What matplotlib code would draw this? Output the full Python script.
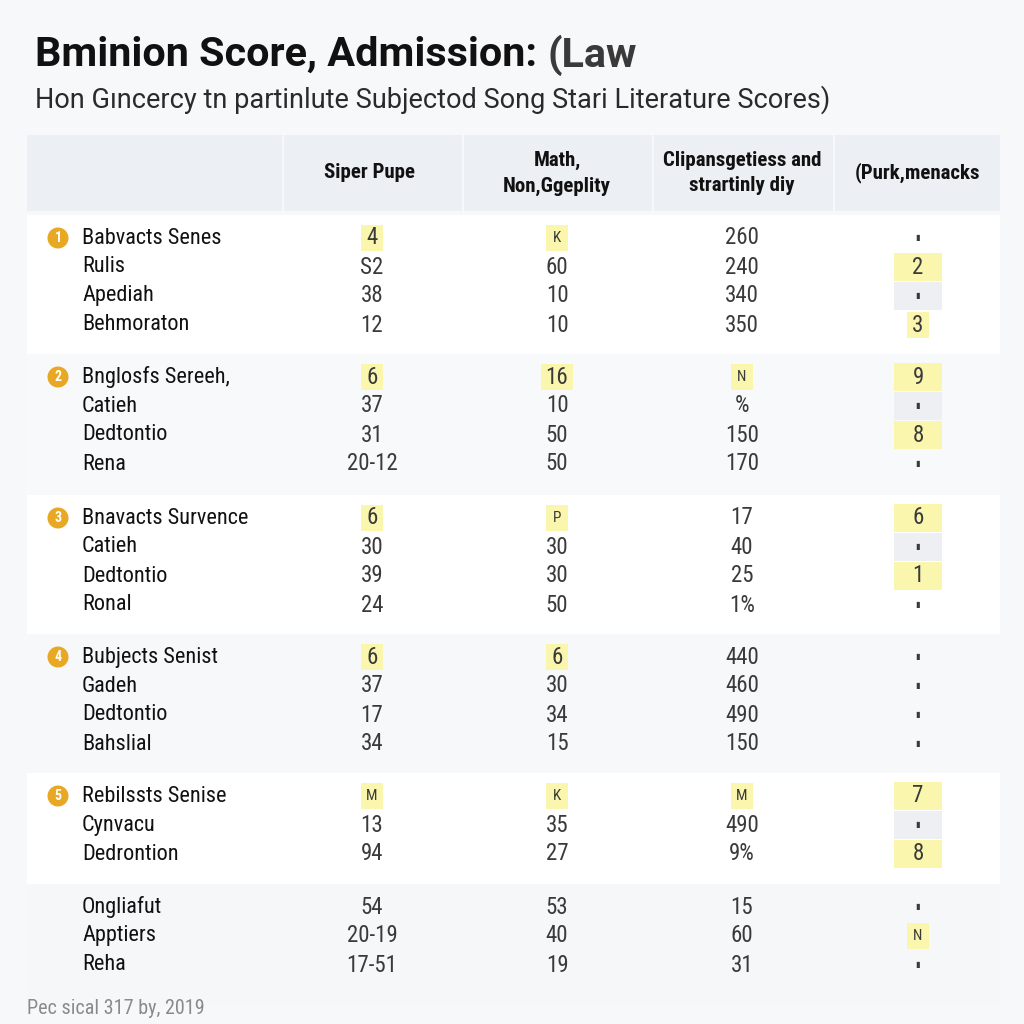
import matplotlib
matplotlib.use("Agg")
import matplotlib.pyplot as plt
from matplotlib.patches import Rectangle, Circle
from matplotlib import font_manager

names = set(font_manager.get_font_names())
body_font = "DejaVu Sans"
for cand in ["Roboto Condensed", "Open Sans Condensed", "Archivo Narrow", "Liberation Sans Narrow", "Roboto"]:
    if cand in names:
        body_font = cand
        break
head_font = "Roboto" if "Roboto" in names else "DejaVu Sans"
plt.rcParams['font.family'] = [body_font, 'DejaVu Sans']

title = "Bminion Score, Admission: "
title_tail = "(Law"
subtitle = "Hon Gıncercy tn partinlute Subjectod Song Stari Literature Scores)"
footer = "Pec sical 317 by, 2019"

headers = ["Siper Pupe", "Math,\nNon,Ggeplity", "Clipansgetiess and\nstrartinly diy", "(Purk,menacks"]

groups = [
    ["Babvacts Senes", "Rulis", "Apediah", "Behmoraton"],
    ["Bnglosfs Sereeh,", "Catieh", "Dedtontio", "Rena"],
    ["Bnavacts Survence", "Catieh", "Dedtontio", "Ronal"],
    ["Bubjects Senist", "Gadeh", "Dedtontio", "Bahslial"],
    ["Rebilssts Senise", "Cynvacu", "Dedrontion"],
    ["Ongliafut", "Apptiers", "Reha"],
]
group_num = ["1", "2", "3", "4", "5", ""]

values = [
    [["4", "K", "260", "▮"], ["S2", "60", "240", "2"], ["38", "10", "340", "▮"], ["12", "10", "350", "3"]],
    [["6", "16", "N", "9"], ["37", "10", "%", "▮"], ["31", "50", "150", "8"], ["20-12", "50", "170", "▮"]],
    [["6", "P", "17", "6"], ["30", "30", "40", "▮"], ["39", "30", "25", "1"], ["24", "50", "1%", "▮"]],
    [["6", "6", "440", "▮"], ["37", "30", "460", "▮"], ["17", "34", "490", "▮"], ["34", "15", "150", "▮"]],
    [["M", "K", "M", "7"], ["13", "35", "490", "▮"], ["94", "27", "9%", "8"]],
    [["54", "53", "15", "▮"], ["20-19", "40", "60", "N"], ["17-51", "19", "31", "▮"]],
]
# y = small yellow tag, Y = wide yellow box, g = grey box
marks = [
    [["y", "y", "", ""], ["", "", "", "Y"], ["", "", "", "g"], ["", "", "", "y"]],
    [["y", "y", "y", "Y"], ["", "", "", "g"], ["", "", "", "Y"], ["", "", "", ""]],
    [["y", "y", "", "Y"], ["", "", "", "g"], ["", "", "", "Y"], ["", "", "", ""]],
    [["y", "y", "", ""], ["", "", "", ""], ["", "", "", ""], ["", "", "", ""]],
    [["y", "y", "y", "Y"], ["", "", "", "g"], ["", "", "", "Y"]],
    [["", "", "", ""], ["", "", "", "y"], ["", "", "", ""]],
]

YELLOW = "#fbf6ae"
GREY = "#eeeff3"
ORANGE = "#e9a824"

fig = plt.figure(figsize=(10.24, 10.24), dpi=100, facecolor="#f7f8fa")
ax = fig.add_axes([0, 0, 1, 1])
ax.set_xlim(0, 1024)
ax.set_ylim(1024, 0)
ax.axis("off")


def fit_text(x, y, s, target_right, fs, **kw):
    # scale the font so the text ends near target_right (pixels)
    t = ax.text(x, y, s, fontsize=fs, **kw)
    fig.canvas.draw()
    w = t.get_window_extent().width
    t.set_fontsize(fs * (target_right - x) / w)
    fig.canvas.draw()
    return t


t1 = fit_text(35, 55, title + title_tail, 637, 27, fontweight="bold", color="#111111",
              va="center", ha="left", family=[head_font, "DejaVu Sans"])
fs_title = t1.get_fontsize()
t1.set_text(title)
fig.canvas.draw()
x_end = t1.get_window_extent().x1
ax.text(x_end, 55, title_tail, fontsize=fs_title, fontweight="bold", color="#3a3a3a", va="center", ha="left",
        family=[head_font, "DejaVu Sans"])
fit_text(35, 100, subtitle, 830, 19, color="#2a2a2a", va="center", ha="left", family=[head_font, "DejaVu Sans"])

# header band
col_edges = [27, 282, 462, 652, 833, 1000]
col_x = [372, 557, 742, 918]
for i in range(5):
    ax.add_patch(Rectangle((col_edges[i] + (2 if i else 0), 135), col_edges[i + 1] - col_edges[i] - (2 if i else 0), 76,
                           facecolor="#eceff3", edgecolor="none"))
for j, h in enumerate(headers):
    ax.text(col_x[j] - (2 if j == 0 else 0), 173, h, fontsize=15, fontweight="bold", color="#111111",
            ha="center", va="center", linespacing=1.45)

row_h = 29
starts = [238, 377, 518, 657, 796, 907]
panel_bg = ["white", "#f8f9fa", "white", "#f7f8f9", "white", "#f6f7f9"]
for g, rows in enumerate(groups):
    y0 = starts[g]
    top = y0 - 23
    height = row_h * (len(rows) - 1) + 46 + 18
    ax.add_patch(Rectangle((27, top), 973, height, facecolor=panel_bg[g], edgecolor="none", zorder=0))
    if group_num[g]:
        ax.add_patch(Circle((58, y0), 10.5, facecolor=ORANGE, edgecolor="none", zorder=2))
        ax.text(58, y0, group_num[g], fontsize=10, color="white", fontweight="bold", ha="center", va="center", zorder=3)
    for r, name in enumerate(rows):
        y = y0 + r * row_h
        ax.text(82, y, name, fontsize=16, color="#111111", ha="left", va="center", zorder=3)
        for j, v in enumerate(values[g][r]):
            m = marks[g][r][j]
            fs = 16.5
            if len(v) == 1 and not v.isdigit() and v != "%" and v != "▮":
                fs = 11
            if v == "▮":
                fs = 6
            if m == "Y":
                ax.add_patch(Rectangle((col_x[j] - 24, y - 14), 48, 28, facecolor=YELLOW, edgecolor="none", zorder=1))
            elif m == "g":
                ax.add_patch(Rectangle((col_x[j] - 24, y - 14), 48, 28, facecolor=GREY, edgecolor="none", zorder=1))
            elif m == "y":
                w = 10 * max(len(v), 1) + 12
                ax.add_patch(Rectangle((col_x[j] - w / 2, y - 13), w, 26, facecolor=YELLOW, edgecolor="none", zorder=1))
            ax.text(col_x[j], y, v, fontsize=fs, color="#3a3a3a", ha="center", va="center", zorder=3)

ax.text(27, 1008, footer, fontsize=14.5, color="#8a8a8a", ha="left", va="center")

fig.savefig("out.png", dpi=100, facecolor=fig.get_facecolor())
